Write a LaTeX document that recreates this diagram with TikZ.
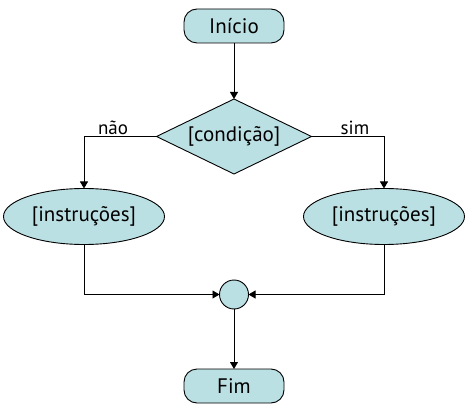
\documentclass[tikz,border=0pt]{standalone}
\usepackage{fontspec}
\setmainfont{PT Sans}
\usetikzlibrary{arrows.meta,shapes.geometric,positioning}
\definecolor{boxfill}{RGB}{187,224,227}
\tikzset{%
    >={Triangle[width=8pt,length=7pt]},
    every node/.style={font=\fontsize{21}{24}\selectfont,outer sep=0pt},
    box/.style={draw,fill=boxfill,minimum width=100pt,minimum height=34pt,rounded corners=13pt},
    test/.style={diamond,draw,fill=boxfill,aspect=2.07,inner sep=0pt,minimum width=155pt,minimum height=75pt},
    instr/.style={ellipse,draw,fill=boxfill,inner sep=0pt,minimum width=161pt,minimum height=56pt},
    junc/.style={circle,draw,fill=boxfill,minimum size=29pt},
    lbl/.style={font=\fontsize{19}{22}\selectfont,above,inner sep=2pt}
}

\begin{document}
\begin{tikzpicture}[->,x=1pt,y=1pt,line width=0.9pt]
            \useasboundingbox (0,0) rectangle (471,-414);
            \node [box] (ini) at (234,-26) {Início};
            \node [test,below=56pt of ini] (cond) {[condição]};
            \node [instr] (ins-l) at ([xshift=-150pt,yshift=-80pt]cond) {[instruções]};
            \node [instr] (ins-r) at ([xshift=150pt,yshift=-80pt]cond) {[instruções]};
            \node [junc,below=106pt of cond] (join) {};
            \node [box,below=60pt of join] (fim) {Fim};
            %%%%%
            \draw (ini) -- (cond);
            \draw (cond.west) -| node[lbl,pos=.3]{não} (ins-l);
            \draw (cond.east) -| node[lbl,pos=.3]{sim} (ins-r);
            \draw (ins-l) |- (join);
            \draw (ins-r) |- (join);
            \draw (join) -- (fim);
\end{tikzpicture}
\end{document}
